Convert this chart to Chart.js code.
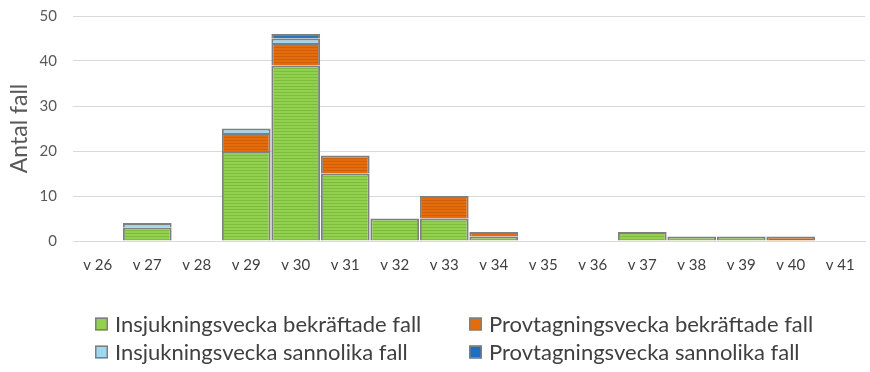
<!DOCTYPE html>
<html><head><meta charset="utf-8">
<script src="https://cdn.jsdelivr.net/npm/chart.js@4/dist/chart.umd.min.js"></script>
<style>html,body{margin:0;padding:0;background:#fff;}#c{display:block;}</style>
</head><body>
<canvas id="c" width="870" height="372"></canvas>
<script>
const categories = ["v 26","v 27","v 28","v 29","v 30","v 31","v 32","v 33","v 34","v 35","v 36","v 37","v 38","v 39","v 40","v 41"];
const insjBekraftade = [0,3,0,20,39,15,5,5,1,0,0,2,1,1,0,0];
const provBekraftade = [0,0,0,4,5,4,0,5,1,0,0,0,0,0,1,0];
const insjSannolika  = [0,1,0,1,1,0,0,0,0,0,0,0,0,0,0,0];
const provSannolika  = [0,0,0,0,1,0,0,0,0,0,0,0,0,0,0,0];
const seriesNames = ["Insjukningsvecka bekräftade fall","Provtagningsvecka bekräftade fall","Insjukningsvecka sannolika fall","Provtagningsvecka sannolika fall"];
const yTicks = [0,10,20,30,40,50];

function stripe(c1, c2){
  const p = document.createElement('canvas'); p.width = 4; p.height = 3;
  const g = p.getContext('2d');
  g.fillStyle = c1; g.fillRect(0,0,4,3);
  g.fillStyle = c2; g.fillRect(0,2,4,1);
  return document.getElementById('c').getContext('2d').createPattern(p,'repeat');
}
const greenP = stripe('#92D050','#7EBC3E');
const orangeP = stripe('#E46C0A','#CF5F08');
const FONT = "Lato, 'Liberation Sans', sans-serif";
const border = '#7F7F7F';
function ds(label, data, bg, legendColor){
  return {label, data, backgroundColor: bg, legendColor, borderColor: border,
    borderWidth: {top: 2, left: 2, right: 2, bottom: 0}, borderSkipped: false,
    barPercentage: 1.0, categoryPercentage: 0.985};
}

// Two-column legend below the chart (Excel style)
const gridLegend = {
  id: 'gridLegend',
  afterDraw(chart){
    const ctx = chart.ctx;
    const cols = [95, 469];
    const rows = [324, 352];
    ctx.save();
    ctx.font = "22px " + FONT;
    ctx.textBaseline = 'middle';
    ctx.textAlign = 'left';
    chart.data.datasets.forEach((d, i) => {
      const x = cols[i % 2], y = rows[Math.floor(i / 2)];
      ctx.fillStyle = d.legendColor;
      ctx.fillRect(x, y - 6.5, 13, 13);
      ctx.strokeStyle = border; ctx.lineWidth = 1.5;
      ctx.strokeRect(x + 0.75, y - 5.75, 11.5, 11.5);
      ctx.fillStyle = '#404040';
      ctx.fillText(d.label, x + 20, y + 1);
    });
    ctx.restore();
  }
};

new Chart(document.getElementById('c'), {
  type: 'bar',
  data: {
    labels: categories,
    datasets: [
      ds(seriesNames[0], insjBekraftade, greenP, '#92D050'),
      ds(seriesNames[1], provBekraftade, orangeP, '#E46C0A'),
      ds(seriesNames[2], insjSannolika, '#9DD8EF', '#9DD8EF'),
      ds(seriesNames[3], provSannolika, '#2E75B6', '#1F6FC0')
    ]
  },
  plugins: [gridLegend],
  options: {
    responsive: false, animation: false,
    layout: {padding: {left: 0, right: 5, top: 16, bottom: 99}},
    plugins: {
      tooltip: {enabled: false},
      legend: {display: false}
    },
    scales: {
      x: {
        stacked: true,
        grid: {display: false, drawTicks: false},
        border: {color: '#D9D9D9', width: 1},
        ticks: {font: {family: FONT, size: 15}, color: '#404040', padding: 15, maxRotation: 0, autoSkip: false},
        afterFit(ax){ ax.height = 32; ax.paddingTop = 0; ax.paddingBottom = 0; }
      },
      y: {
        stacked: true, min: 0, max: 50,
        afterBuildTicks(ax){ ax.ticks = yTicks.map(v=>({value: v})); },
        afterFit(ax){ ax.width = 73; ax.paddingTop = 0; ax.paddingBottom = 0; },
        grid: {color: '#D9D9D9', lineWidth: 1, drawTicks: false},
        border: {display: false},
        ticks: {font: {family: FONT, size: 15}, color: '#595959', padding: 16},
        title: {display: true, text: 'Antal fall', font: {family: FONT, size: 23}, color: '#595959', padding: {top: 6, bottom: 0}}
      }
    }
  }
});
</script>
</body></html>
